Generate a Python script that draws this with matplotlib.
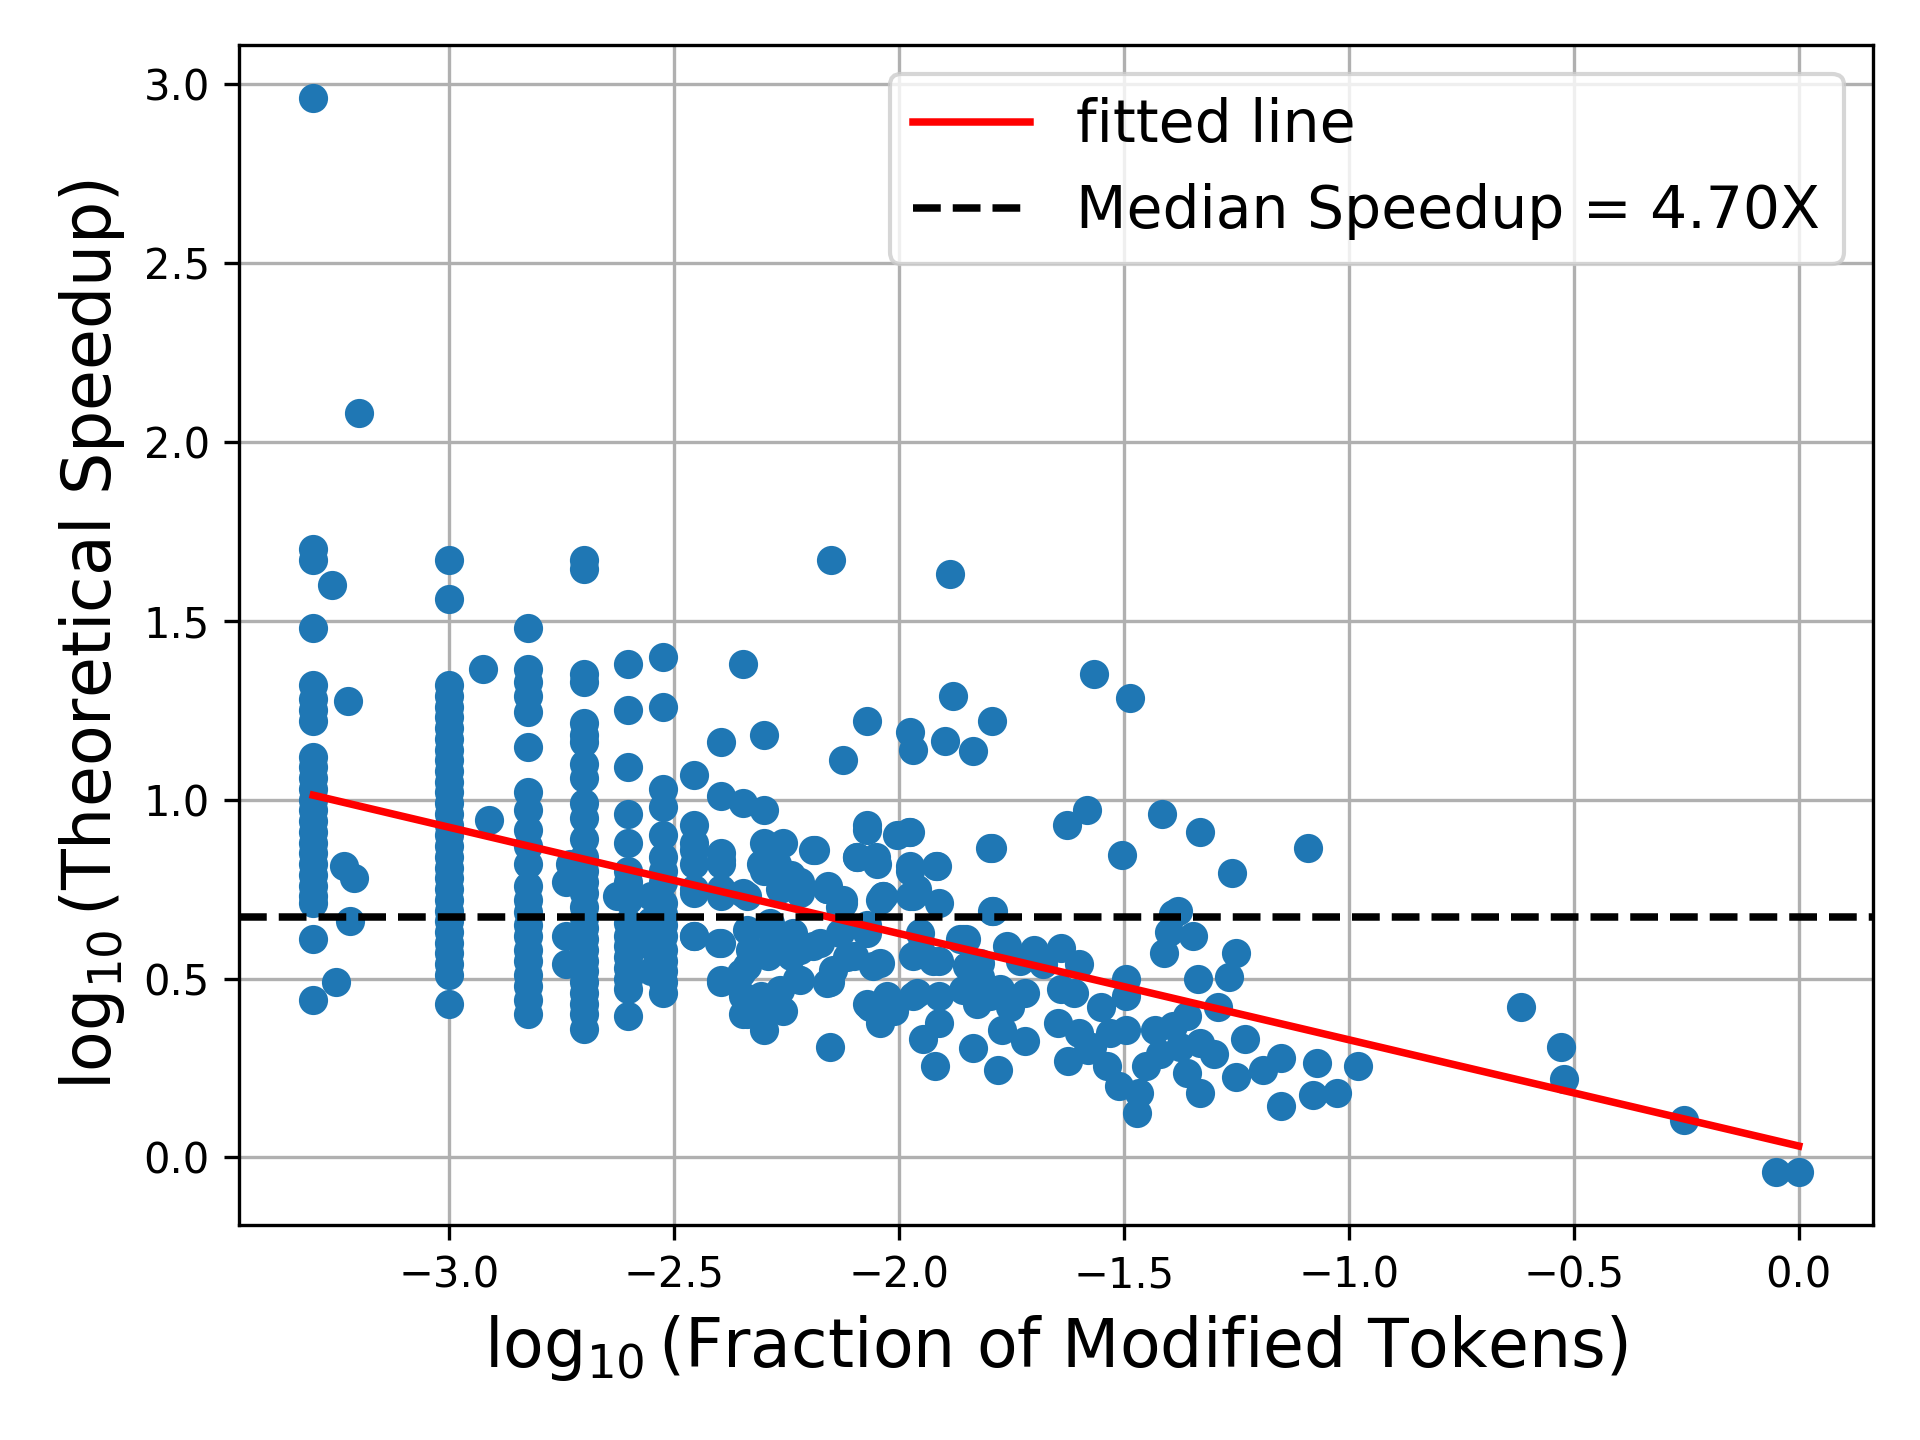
import numpy as np
import matplotlib
matplotlib.use('Agg')
import matplotlib.pyplot as plt

# discrete fractions (log10) that form vertical stacks
col_x = [-3.301, -3.0, -2.824, -2.699, -2.602, -2.523]
col_y = [
    [2.96, 1.70, 1.67, 1.48, 1.32, 1.28, 1.25, 1.22, 1.12, 1.09, 1.06, 1.03, 1.00, 0.97,
     0.94, 0.91, 0.88, 0.85, 0.82, 0.79, 0.76, 0.73, 0.71, 0.61, 0.44],
    [1.67, 1.56, 1.32, 1.29, 1.26, 1.23, 1.20, 1.17, 1.14, 1.11, 1.08, 1.05, 1.02, 0.99,
     0.96, 0.93, 0.90, 0.87, 0.84, 0.81, 0.78, 0.75, 0.72, 0.69, 0.66, 0.63, 0.60, 0.57,
     0.54, 0.51, 0.43],
    [1.48, 1.365, 1.33, 1.29, 1.245, 1.146, 1.02, 0.97, 0.915, 0.87, 0.82, 0.76, 0.72,
     0.685, 0.65, 0.62, 0.58, 0.55, 0.51, 0.48, 0.44, 0.40],
    [1.67, 1.645, 1.35, 1.33, 1.215, 1.18, 1.16, 1.10, 1.06, 0.99, 0.95, 0.89, 0.84, 0.80,
     0.77, 0.74, 0.70, 0.67, 0.64, 0.61, 0.58, 0.55, 0.52, 0.49, 0.46, 0.43, 0.40, 0.36],
    [1.38, 1.25, 1.09, 0.96, 0.88, 0.80, 0.77, 0.72, 0.655, 0.62, 0.59, 0.56, 0.53, 0.50,
     0.47, 0.395],
    [1.40, 1.26, 1.03, 0.98, 0.90, 0.84, 0.80, 0.77, 0.71, 0.68, 0.65, 0.62, 0.58, 0.55,
     0.52, 0.49, 0.46],
]

# the remaining individual points
pts_x = [
    -3.26, -3.20, -3.224, -3.233, -3.21, -3.22, -3.25,
    -2.925, -2.91,
    -2.73, -2.74, -2.74, -2.74, -2.625,
    -2.55, -2.55, -2.55, -2.55, -2.545,
    -2.454, -2.396, -2.345, -2.30, -2.396, -2.345, -2.30, -2.454, -2.454, -2.454,
    -2.396, -2.396, -2.30, -2.257, -2.30, -2.24, -2.27, -2.186, -2.123, -2.07, -2.07,
    -2.092, -2.05, -2.157, -2.123, -2.456, -2.396, -2.345,
    -2.15, -1.886,
    -2.456, -2.40, -2.396, -2.35, -2.345, -2.30, -2.257, -2.307, -2.33, -2.279,
    -2.226, -2.22, -2.263, -2.22, -2.159, -2.13, -2.174, -2.152, -2.152, -2.114,
    -2.057, -2.035, -2.063, -2.041, -2.01, -2.07, -1.96, -1.91, -1.953, -1.924,
    -1.864, -1.848, -1.96, -1.91, -1.946, -1.92, -1.835, -1.826,
    -1.975, -1.968, -1.88, -1.897, -1.793, -1.835, -1.566, -1.486, -1.977, -2.003,
    -1.793, -1.626, -1.582, -1.416, -1.504, -1.331, -1.26, -1.975, -1.917, -2.041,
    -1.975, -1.793, -1.39, -1.09,
    -1.85, -1.76, -1.70, -1.64, -1.60, -1.68, -1.73, -1.82, -1.775, -1.72,
    -1.64, -1.61, -1.55, -1.495, -1.495, -1.753, -1.77, -1.72, -1.78, -1.646,
    -1.60, -1.624, -1.57, -1.53, -1.538, -1.51, -1.465, -1.47, -1.495, -1.45,
    -1.43, -1.42, -1.39, -1.36, -1.375, -1.36, -1.331, -1.331, -1.30, -1.29,
    -1.25, -1.23, -1.19, -1.15, -1.15, -1.07, -1.08, -1.025, -0.98, -1.41,
    -1.38, -1.345, -1.40, -1.335, -1.265, -1.25, -1.58,
    -2.307, -2.263, -2.22, -2.396, -2.456, -2.16, -2.123, -2.092, -2.048, -2.035,
    -1.975, -1.915, -1.968, -2.07, -1.975, -1.797, -2.19, -2.456, -2.396, -2.337,
    -2.456, -2.396, -2.337, -2.285, -2.234, -2.19, -2.13, -2.07, -2.041, -2.10,
    -2.146, -2.16, -2.22, -2.24, -2.29, -2.337, -2.396, -2.345, -2.29, -2.263,
    -2.337, -2.07, -2.026, -1.968, -1.91, -1.953, -1.857, -1.82, -1.79, -1.968,
    -1.91, -1.857, -1.797,
    -0.617, -0.528, -0.521, -0.255, -0.05, 0.0,
]
pts_y = [
    1.60, 2.08, 1.277, 0.815, 0.78, 0.66, 0.49,
    1.365, 0.944,
    0.82, 0.77, 0.62, 0.54, 0.73,
    0.73, 0.66, 0.59, 0.52, 0.63,
    1.07, 1.16, 1.38, 1.18, 1.01, 0.99, 0.97, 0.93, 0.86, 0.82,
    0.85, 0.82, 0.88, 0.88, 0.80, 0.79, 0.82, 0.86, 1.11, 1.22, 0.93,
    0.84, 0.84, 0.76, 0.72, 0.75, 0.73, 0.74,
    1.67, 1.63,
    0.62, 0.60, 0.49, 0.515, 0.40, 0.356, 0.41, 0.45, 0.58, 0.62,
    0.50, 0.58, 0.75, 0.74, 0.75, 0.70, 0.60, 0.49, 0.31, 0.56,
    0.535, 0.73, 0.42, 0.375, 0.41, 0.65, 0.75, 0.71, 0.58, 0.55,
    0.61, 0.535, 0.46, 0.375, 0.33, 0.255, 0.305, 0.43,
    1.19, 1.14, 1.29, 1.165, 1.22, 1.135, 1.35, 1.285, 0.91, 0.90,
    0.865, 0.93, 0.97, 0.96, 0.845, 0.91, 0.795, 0.80, 0.815, 0.72,
    0.73, 0.69, 0.68, 0.865,
    0.61, 0.59, 0.58, 0.585, 0.54, 0.54, 0.55, 0.505, 0.47, 0.46,
    0.47, 0.46, 0.42, 0.50, 0.45, 0.42, 0.356, 0.325, 0.245, 0.375,
    0.347, 0.27, 0.31, 0.347, 0.255, 0.20, 0.18, 0.123, 0.356, 0.255,
    0.356, 0.29, 0.367, 0.395, 0.31, 0.235, 0.18, 0.32, 0.29, 0.42,
    0.225, 0.33, 0.245, 0.277, 0.143, 0.263, 0.175, 0.18, 0.255, 0.57,
    0.69, 0.62, 0.63, 0.50, 0.505, 0.57, 0.30,
    0.82, 0.80, 0.77, 0.83, 0.88, 0.75, 0.71, 0.84, 0.82, 0.73,
    0.815, 0.815, 0.73, 0.915, 0.91, 0.865, 0.86, 0.74, 0.75, 0.73,
    0.62, 0.60, 0.635, 0.655, 0.627, 0.59, 0.627, 0.627, 0.543, 0.563,
    0.524, 0.487, 0.496, 0.563, 0.563, 0.535, 0.496, 0.45, 0.43, 0.468,
    0.40, 0.43, 0.45, 0.563, 0.55, 0.627, 0.61, 0.543, 0.69, 0.45,
    0.45, 0.468, 0.45,
    0.42, 0.31, 0.22, 0.105, -0.04, -0.04,
]

# fitted line coefficients and median speedup
fit_slope = -0.297
fit_intercept = 0.032
median_speedup = 4.70

x = np.concatenate([np.full(len(ys), cx) for cx, ys in zip(col_x, col_y)] + [np.array(pts_x)])
y = np.concatenate([np.array(ys) for ys in col_y] + [np.array(pts_y)])

fig, ax = plt.subplots(figsize=(6.4, 4.8), dpi=300)
fig.subplots_adjust(left=0.1245, right=0.9755, top=0.969, bottom=0.149)

ax.scatter(x, y, color='#1f77b4', zorder=2)

xs = np.array([x.min(), x.max()])
ax.plot(xs, fit_slope * xs + fit_intercept, color='red', lw=1.8, label='fitted line', zorder=3)
ax.axhline(np.log10(median_speedup), color='black', ls='--', lw=1.8,
           label=f'Median Speedup = {median_speedup:.2f}X', zorder=3)

ax.grid(True)
ax.set_axisbelow(True)
ax.set_xlabel(r'$\log_{10}$(Fraction of Modified Tokens)', fontsize=16)
ax.set_ylabel(r'$\log_{10}$(Theoretical Speedup)', fontsize=16)
ax.legend(loc='upper right', fontsize=14)

fig.savefig('out.png', dpi=300)
